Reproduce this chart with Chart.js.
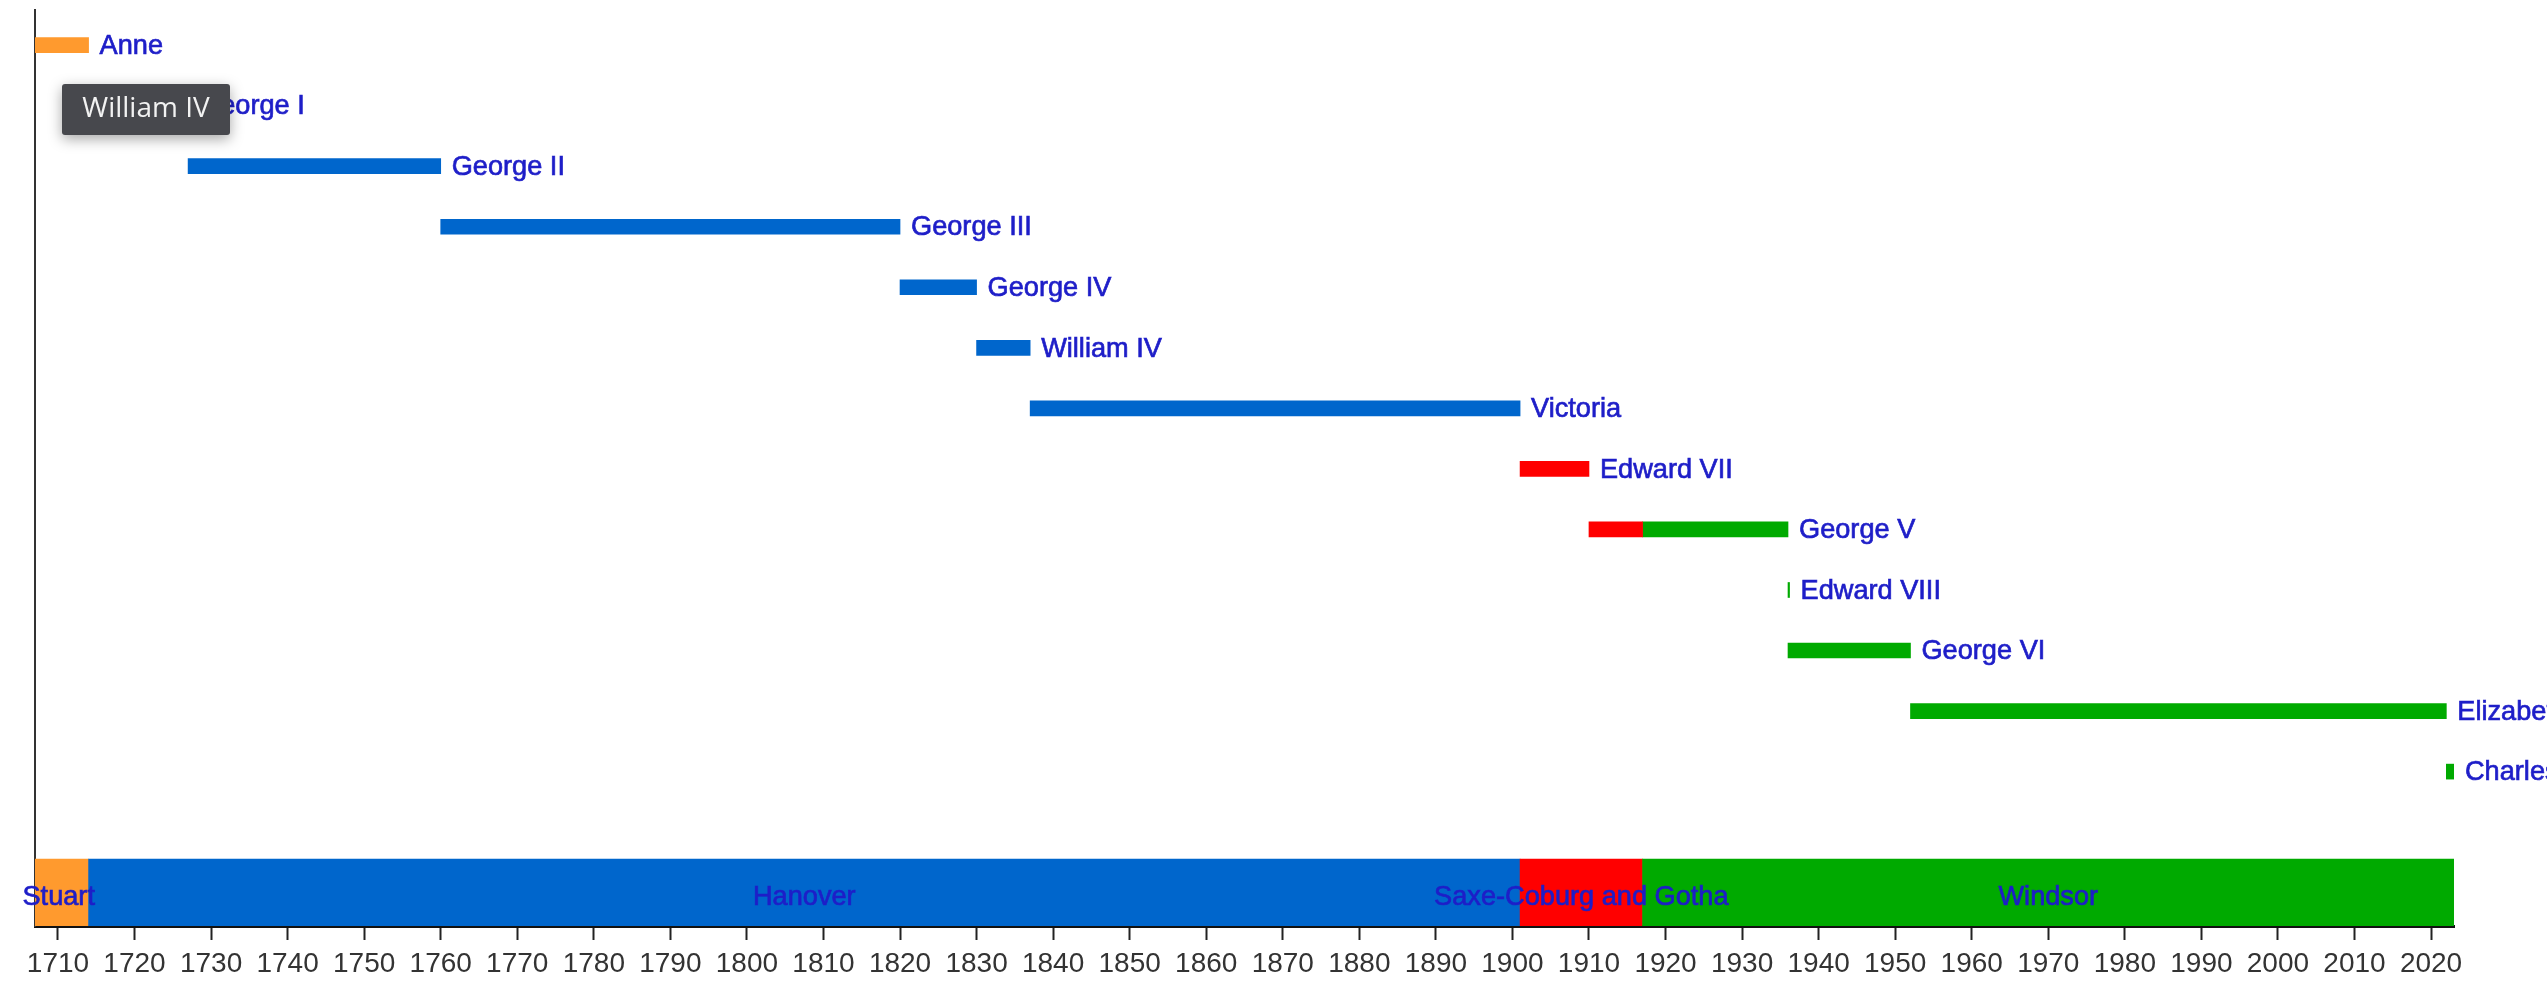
<!DOCTYPE html>
<html>
<head>
<meta charset="utf-8">
<title>British monarchs timeline</title>
<script src="https://cdn.jsdelivr.net/npm/chart.js@4.4.0/dist/chart.umd.min.js"></script>
<style>
  html, body { margin: 0; padding: 0; background: #fff; }
  #wrap { width: 2547px; height: 988px; }
</style>
</head>
<body>
<div id="wrap"><canvas id="myChart" width="2547" height="988"></canvas></div>
<script>
// monarchs, one row each (top to bottom)
const monarchs = ['Anne', 'George I', 'George II', 'George III', 'George IV', 'William IV', 'Victoria',
  'Edward VII', 'George V', 'Edward VIII', 'George VI', 'Elizabeth II', 'Charles III'];
const reignEnd = [1714, 1727, 1760, 1820, 1830, 1837, 1901, 1910, 1936, 1936.2, 1952, 2022, 2023];

// reign pieces, coloured by royal house (George V changes house in 1917)
const segMonarch = [0, 1, 2, 3, 4, 5, 6, 7, 8, 8, 9, 10, 11, 12];
const segStart = [1707, 1714, 1727, 1760, 1820, 1830, 1837, 1901, 1910, 1917, 1936, 1936, 1952, 2022];
const segEnd = [1714, 1727, 1760, 1820, 1830, 1837, 1901, 1910, 1917, 1936, 1936.2, 1952, 2022, 2023];
const segHouse = [0, 1, 1, 1, 1, 1, 1, 2, 2, 3, 3, 3, 3, 3];

// houses, drawn as the band along the bottom
const houses = ['Stuart', 'Hanover', 'Saxe-Coburg and Gotha', 'Windsor'];
const houseStart = [1707, 1714, 1901, 1917];
const houseEnd = [1714, 1901, 1917, 2023];
const houseLabelAt = [1710.1, 1807.5, 1909, 1970];

const tickYears = [1710, 1720, 1730, 1740, 1750, 1760, 1770, 1780, 1790, 1800, 1810, 1820, 1830, 1840,
  1850, 1860, 1870, 1880, 1890, 1900, 1910, 1920, 1930, 1940, 1950, 1960, 1970, 1980, 1990, 2000,
  2010, 2020];

const houseColors = ['#ff9a2e', '#0066cc', '#ff0000', '#00aa00'];
const bandRow = 14;
const labelFont = '28px "Liberation Sans", Arial, sans-serif';
const labelColor = '#1e1ec8';
const squeeze = 0.97;   // the original lettering is a touch narrow

const datasets = houses.map((h, k) => ({
  label: h,
  data: segHouse.map((hh, i) => hh === k ? { x: [segStart[i], segEnd[i]], y: segMonarch[i] } : null)
    .filter(d => d),
  backgroundColor: houseColors[k],
  barThickness: 15
}));
datasets.push({
  label: 'Houses',
  data: houses.map((h, i) => ({ x: [houseStart[i], houseEnd[i]], y: bandRow })),
  backgroundColor: houseColors,
  barThickness: 67
});

// slightly narrow, slightly heavy lettering like the screenshot
function narrowText(ctx, text, x, y) {
  ctx.save();
  ctx.translate(x, y);
  ctx.scale(squeeze, 1);
  ctx.fillText(text, 0, 0);
  ctx.strokeText(text, 0, 0);
  ctx.restore();
}

// names after each reign and inside the house band
const namesPlugin = {
  id: 'names',
  afterDatasetsDraw(chart) {
    const ctx = chart.ctx, xs = chart.scales.x, ys = chart.scales.y;
    ctx.save();
    ctx.font = labelFont;
    ctx.fillStyle = labelColor;
    ctx.strokeStyle = labelColor;
    ctx.lineWidth = 0.7;
    ctx.textBaseline = 'middle';
    ctx.textAlign = 'left';
    monarchs.forEach((m, i) => {
      narrowText(ctx, m, xs.getPixelForValue(reignEnd[i]) + 11, ys.getPixelForValue(i) + 1);
    });
    ctx.textAlign = 'center';
    houses.forEach((h, i) => {
      narrowText(ctx, h, xs.getPixelForValue(houseLabelAt[i]), ys.getPixelForValue(bandRow) + 5);
    });
    ctx.restore();
  },
  afterDraw(chart) {
    // the hover box seen in the screenshot
    const ctx = chart.ctx;
    ctx.save();
    ctx.shadowColor = 'rgba(0,0,0,0.35)';
    ctx.shadowBlur = 14;
    ctx.shadowOffsetY = 4;
    ctx.fillStyle = '#47484d';
    ctx.beginPath();
    ctx.roundRect(62, 84, 168, 51, 3);
    ctx.fill();
    ctx.shadowColor = 'transparent';
    ctx.fillStyle = '#f2f2f2';
    ctx.font = '28px "Open Sans", sans-serif';
    ctx.textAlign = 'center';
    ctx.textBaseline = 'middle';
    ctx.fillText('William IV', 146, 109);
    ctx.restore();
  }
};

new Chart(document.getElementById('myChart').getContext('2d'), {
  type: 'bar',
  data: { datasets: datasets },
  options: {
    responsive: false,
    animation: false,
    indexAxis: 'y',
    grouped: false,
    layout: { padding: { left: 35, right: 93, top: 10, bottom: 0 } },
    plugins: { legend: { display: false }, tooltip: { enabled: false } },
    scales: {
      x: {
        type: 'linear',
        min: 1707,
        max: 2023,
        afterBuildTicks: (scale) => { scale.ticks = tickYears.map(v => ({ value: v })); },
        afterFit: (scale) => { scale.height = 62; },
        border: { display: true, color: '#111', width: 3 },
        grid: { drawOnChartArea: false, drawTicks: true, tickLength: 14, tickWidth: 2, tickColor: '#222' },
        ticks: {
          autoSkip: false,
          maxRotation: 0,
          padding: 7,
          color: '#333',
          font: { family: '"Liberation Sans", Arial, sans-serif', size: 28 },
          callback: (v) => String(v)
        }
      },
      y: {
        type: 'linear',
        reverse: true,
        offset: false,
        min: -0.58,
        max: 14.55,
        afterFit: (scale) => { scale.width = 0; },
        border: { display: true, color: '#333', width: 2 },
        grid: { display: false },
        ticks: { display: false }
      }
    }
  },
  plugins: [namesPlugin]
});
</script>
</body>
</html>
